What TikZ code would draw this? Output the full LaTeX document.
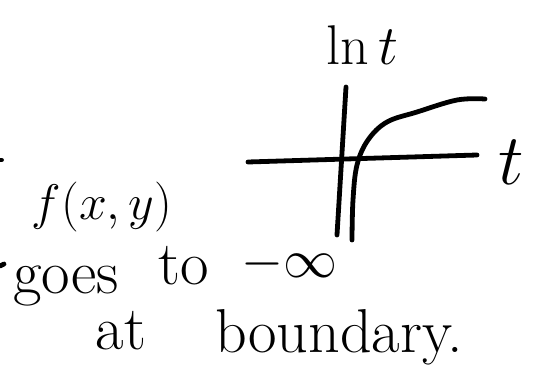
\RequirePackage{fix-cm}
\documentclass[tikz,border=0pt]{standalone}
\usepackage{tikz}
\tikzset{
  ink/.style={line width=2.4pt, line cap=round, line join=round, black},
  hand/.style={anchor=base, inner sep=0pt, font=\fontsize{31}{35}\selectfont},
  mathhand/.style={hand, font=\fontsize{25}{29}\selectfont},
  axlbl/.style={inner sep=0pt, font=\fontsize{28}{32}\selectfont}
}
\begin{document}
\begin{tikzpicture}[x=0.5pt, y=-0.5pt]
  \useasboundingbox (0,0) rectangle (548,391);

  % ---- axes ----
  \coordinate (tleft)  at (248,162);
  \coordinate (tright) at (477,155);
  \coordinate (ytop)   at (346,87);
  \coordinate (ybot)   at (337,235);
  \draw[ink] (tleft) -- (tright);
  \draw[ink] (ytop) -- (ybot);

  \node[axlbl] (lnt) at (362,45) {$\ln t$};
  \node[axlbl, font=\fontsize{36}{40}\selectfont] (tlbl) at (511,162) {$t$};

  % ---- log curve ----
  \draw[ink] plot[smooth, tension=0.6] coordinates
    {(352,240) (353,200) (357,165) (368,140) (387,122) (417,112) (457,100) (485,99)};

  % ---- text ----
  \node[mathhand] (fxy) at (102,220) {$f(x,y)$};
  \node[hand] (goes)  at (66,293)  {goes};
  \node[hand] (to)    at (184,285) {to};
  \node[mathhand, font=\fontsize{27}{31}\selectfont] (minf) at (290,278) {$-\infty$};
  \node[hand] (at)    at (121,350) {at};
  \node[hand] (bound) at (339,352) {boundary.};

  % cut-off strokes at the left edge
  \draw[ink] (0,160) -- (1.5,160);
  \draw[ink] (0,266) -- (4,264);
\end{tikzpicture}
\end{document}
